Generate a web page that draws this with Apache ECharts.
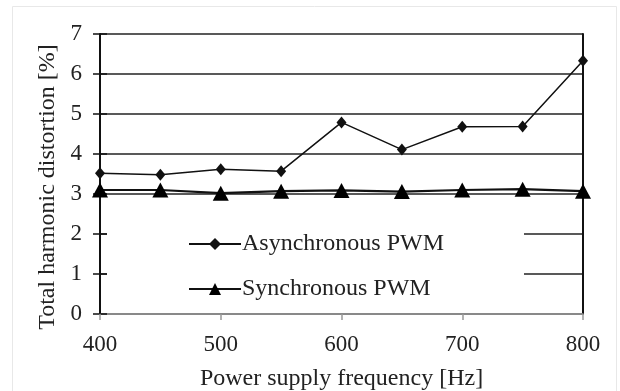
<!DOCTYPE html>
<html>
<head>
<meta charset="utf-8">
<script src="https://cdn.jsdelivr.net/npm/echarts@6/dist/echarts.min.js"></script>
<style>
  html, body { margin: 0; padding: 0; background: #fff; }
  #chart { width: 620px; height: 391px; }
</style>
</head>
<body>
<div id="chart"></div>
<script>
// supply frequency [Hz]
var frequencies = [400, 450, 500, 550, 600, 650, 700, 750, 800];
// THD [%]
var asyncPwm = [3.52, 3.48, 3.62, 3.57, 4.79, 4.11, 4.68, 4.69, 6.33];
var syncPwm = [3.10, 3.10, 3.02, 3.07, 3.09, 3.06, 3.10, 3.12, 3.07];

var FONT = "'Liberation Serif', 'Times New Roman', serif";

function pairs(xs, ys) {
    var out = [];
    for (var i = 0; i < xs.length; i++) out.push([xs[i], ys[i]]);
    return out;
}

var chart = echarts.init(document.getElementById('chart'));
chart.setOption({
    animation: false,
    backgroundColor: '#fff',
    textStyle: { fontFamily: FONT, color: '#222' },
    graphic: [{
        type: 'rect',
        shape: { x: 12.5, y: 6.5, width: 604, height: 400 },
        style: { fill: 'none', stroke: '#e8e8e8', lineWidth: 1 },
        silent: true
    }],
    grid: { left: 100, right: 37, top: 34, bottom: 77, outerBoundsMode: 'none', containLabel: false },
    legend: {
        orient: 'vertical',
        left: 107,
        top: 211,
        padding: [21, 80, 8, 81],
        itemGap: 21,
        itemWidth: 52,
        itemHeight: 15,
        backgroundColor: '#fff',
        textStyle: { fontFamily: FONT, fontSize: 24, color: '#222', padding: [0, 0, 0, -4] },
        data: ['Asynchronous PWM', 'Synchronous PWM']
    },
    xAxis: {
        type: 'value',
        min: 400,
        max: 800,
        interval: 100,
        name: 'Power supply frequency [Hz]',
        nameLocation: 'middle',
        nameGap: 53,
        nameTextStyle: { fontFamily: FONT, fontSize: 24, color: '#222' },
        axisLine: { show: true, lineStyle: { color: '#999', width: 1.5 } },
        axisTick: { show: true, length: 6, lineStyle: { color: '#999', width: 1.5 } },
        axisLabel: { fontFamily: FONT, fontSize: 23, color: '#222', margin: 19 },
        splitLine: { show: false }
    },
    yAxis: [{
        type: 'value',
        min: 0,
        max: 7,
        interval: 1,
        name: 'Total harmonic distortion [%]',
        nameLocation: 'middle',
        nameGap: 40,
        nameTextStyle: { fontFamily: FONT, fontSize: 24, color: '#222', padding: [0, 26, 0, 0] },
        axisLine: { show: true, lineStyle: { color: '#111', width: 2 } },
        axisTick: { show: true, length: 7, lineStyle: { color: '#111', width: 1.5 } },
        axisLabel: { fontFamily: FONT, fontSize: 23, color: '#222', margin: 18 },
        splitLine: { show: true, lineStyle: { color: '#222', width: 1.5 } }
    }, {
        // inner half of the crossing ticks on the left axis
        type: 'value',
        position: 'left',
        min: 0,
        max: 7,
        interval: 1,
        axisLine: { show: false },
        axisTick: { show: true, inside: true, length: 7, lineStyle: { color: '#111', width: 1.5 } },
        axisLabel: { show: false },
        splitLine: { show: false }
    }, {
        // right border of the plot area
        type: 'value',
        position: 'right',
        min: 0,
        max: 7,
        interval: 1,
        axisLine: { show: true, lineStyle: { color: '#111', width: 2 } },
        axisTick: { show: false },
        axisLabel: { show: false },
        splitLine: { show: false }
    }],
    series: [{
        name: 'Asynchronous PWM',
        type: 'line',
        data: pairs(frequencies, asyncPwm),
        symbol: 'diamond',
        symbolSize: [10, 12],
        itemStyle: { color: '#111' },
        lineStyle: { color: '#111', width: 1.5 },
        z: 5
    }, {
        name: 'Synchronous PWM',
        type: 'line',
        data: pairs(frequencies, syncPwm),
        symbol: 'triangle',
        symbolSize: [16, 15],
        itemStyle: { color: '#000' },
        lineStyle: { color: '#111', width: 2.2 },
        z: 6
    }]
});
</script>
</body>
</html>
